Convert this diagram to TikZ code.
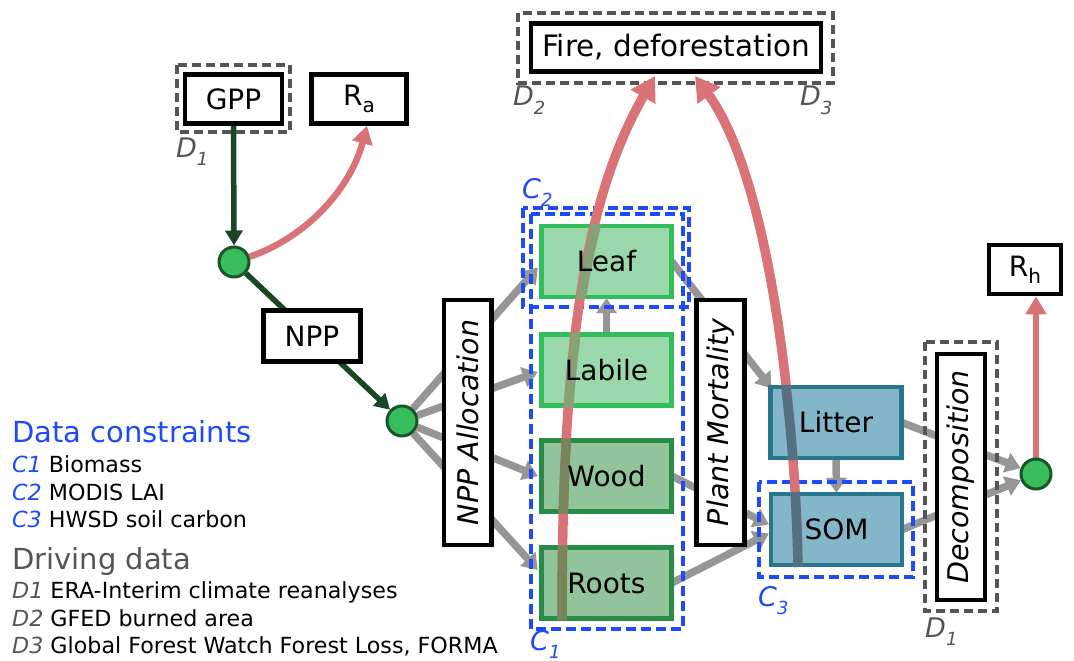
\documentclass[tikz,border=0pt]{standalone}
\usepackage{fontspec}
\setmainfont{DejaVu Sans}
\usetikzlibrary{arrows.meta}
\pgfdeclarelayer{arr}\pgfdeclarelayer{bg}\pgfdeclarelayer{mid}
\pgfsetlayers{arr,bg,mid,main}
\definecolor{cblue}{RGB}{30,75,245}
\definecolor{dgray}{RGB}{85,85,85}
\definecolor{agray}{RGB}{150,150,150}
\definecolor{dgreen}{RGB}{25,70,35}
\definecolor{pinkr}{RGB}{217,115,120}
\definecolor{jfill}{RGB}{55,190,90}
\definecolor{jdraw}{RGB}{25,85,40}
\definecolor{lfill}{RGB}{152,216,170}
\definecolor{ldraw}{RGB}{50,190,90}
\definecolor{wfill}{RGB}{145,196,155}
\definecolor{wdraw}{RGB}{40,140,70}
\definecolor{sfill}{RGB}{132,182,202}
\definecolor{sdraw}{RGB}{40,118,140}
\definecolor{flight}{RGB}{135,160,118}
\definecolor{fdark}{RGB}{120,132,92}
\definecolor{fblue}{RGB}{85,112,130}
\newcommand{\subl}[2]{{\itshape #1\raisebox{-0.3em}{\fontsize{18}{18}\selectfont #2}}}
\tikzset{
  box/.style={draw=black, line width=4.5pt, fill=white, inner sep=0pt, font=\fontsize{28}{32}\selectfont},
  vbox/.style={box, rotate=90, font=\fontsize{28.5}{32}\selectfont\itshape},
  comp/.style={inner sep=0pt, font=\fontsize{28}{32}\selectfont, minimum width=130pt, minimum height=71pt},
  leafc/.style={fill=lfill, draw=ldraw, line width=4.5pt},
  woodc/.style={fill=wfill, draw=wdraw, line width=4.5pt},
  soilc/.style={fill=sfill, draw=sdraw, line width=4.5pt},
  junc/.style={circle, fill=jfill, draw=jdraw, line width=3pt, minimum size=30pt, inner sep=0pt},
  garrow/.style={draw=agray, line width=7.5pt, -{Triangle[width=20pt,length=15pt]}},
  dgarrow/.style={draw=dgreen, line width=5.5pt, -{Triangle[width=17pt,length=15pt]}},
  parrow/.style={draw=pinkr, line width=6.5pt, -{Triangle[width=20pt,length=18pt]}},
  firearrow/.style={draw=pinkr, line width=9.5pt, -{Triangle[width=27pt,length=24pt]}},
  bdash/.style={draw=cblue, line width=3.2pt, dash pattern=on 10pt off 5pt},
  gdash/.style={draw=dgray, line width=3.2pt, dash pattern=on 9pt off 5pt},
  clab/.style={anchor=base west, text=cblue, font=\fontsize{27}{30}\selectfont, inner sep=0pt},
  dlab/.style={anchor=base west, text=dgray, font=\fontsize{27}{30}\selectfont, inner sep=0pt},
  leg/.style={anchor=base west, font=\fontsize{22.2}{24}\selectfont, inner sep=0pt},
  legh/.style={anchor=base west, font=\fontsize{29}{32}\selectfont, inner sep=0pt}
}
\begin{document}
\begin{tikzpicture}[x=1pt,y=-1pt]
\useasboundingbox (0,0) rectangle (1074,661);
% plain boxes
\node[box, minimum width=97pt, minimum height=49pt] (GPP) at (233.5,99) {GPP};
\node[box, minimum width=95pt, minimum height=49pt] (Ra) at (359,99) {R\raisebox{-0.25em}{\fontsize{20}{20}\selectfont a}};
\node[box, minimum width=290pt, minimum height=48pt, font=\fontsize{29.5}{32}\selectfont] (Fire) at (676,47.5) {Fire, deforestation};
\node[box, minimum width=97pt, minimum height=51pt] (NPP) at (312,336) {NPP};
\node[vbox, minimum width=245pt, minimum height=47.5pt] (Alloc) at (467.5,422.5) {NPP Allocation};
\node[vbox, minimum width=245pt, minimum height=48pt] (Mort) at (720.5,422.5) {Plant Mortality};
\node[vbox, minimum width=246pt, minimum height=48pt] (Decomp) at (961,477) {Decomposition};
\node[box, minimum width=72pt, minimum height=49pt] (Rh) at (1025,269.5) {R\raisebox{-0.25em}{\fontsize{20}{20}\selectfont h}};
% compartments
\node[comp] (Leaf) at (606.5,261.5) {Leaf};
\node[comp] (Labile) at (606.5,370) {Labile};
\node[comp] (Wood) at (606.5,476) {Wood};
\node[comp] (Roots) at (606.5,583) {Roots};
\node[comp, minimum width=131pt] (Litter) at (836,422.5) {Litter};
\node[comp, minimum width=131pt] (SOM) at (836.5,529.5) {SOM};
% junctions
\node[junc] (J1) at (234,262) {};
\node[junc] (J2) at (402,421) {};
\node[junc] (J3) at (1036,474) {};
% labels
\node[dlab] (d1a) at (176,157) {\subl{D}{1}};
\node[dlab] (d2) at (513,106) {\subl{D}{2}};
\node[dlab] (d3) at (800,106) {\subl{D}{3}};
\node[clab] (c2) at (522,198) {\subl{C}{2}};
\node[clab] (c1) at (530,650) {\subl{C}{1}};
\node[clab] (c3) at (758,606) {\subl{C}{3}};
\node[dlab] (d1b) at (925,637) {\subl{D}{1}};
% legend
\node[legh, text=cblue] (lgc) at (12,442) {Data constraints};
\node[leg] (lgc1) at (12,472) {\textcolor{cblue}{\itshape C1} Biomass};
\node[leg] (lgc2) at (12,500) {\textcolor{cblue}{\itshape C2} MODIS LAI};
\node[leg] (lgc3) at (12,527) {\textcolor{cblue}{\itshape C3} HWSD soil carbon};
\node[legh, text=dgray] (lgd) at (12,569) {Driving data};
\node[leg] (lgd1) at (12,598) {\textcolor{dgray}{\itshape D1} ERA-Interim climate reanalyses};
\node[leg] (lgd2) at (12,626) {\textcolor{dgray}{\itshape D2} GFED burned area};
\node[leg] (lgd3) at (12,653) {\textcolor{dgray}{\itshape D3} Global Forest Watch Forest Loss, FORMA};
% connectors
\begin{pgfonlayer}{arr}
\draw[dgarrow] (GPP.south) -- (J1.north);
\draw[dgarrow] (J1) -- (J2);
\draw[parrow] (J1) .. controls (305,238) and (350,190) .. ([xshift=8pt]Ra.south);
\draw[garrow] (J2) -- ([xshift=-3.5pt,yshift=-6pt]Leaf.west);
\draw[garrow] (J2) -- ([xshift=-3.5pt,yshift=-2pt]Labile.west);
\draw[garrow] (J2) -- ([xshift=-3.5pt]Wood.west);
\draw[garrow] (J2) -- ([xshift=-3.5pt,yshift=13pt]Roots.west);
\draw[garrow] (Labile.north) -- ([yshift=-1pt]Leaf.south);
\draw[garrow, shorten >=-2pt] (Leaf.east) -- (Litter.north west);
\draw[garrow] (Wood.east) -- ([xshift=-2pt,yshift=5pt]SOM.west);
\draw[garrow] (Roots.east) -- ([xshift=-2pt,yshift=-4pt]SOM.west);
\draw[garrow] (Litter.south) -- ([yshift=1pt]SOM.north);
\draw[garrow] (Litter.east) -- (J3);
\draw[garrow] (SOM.east) -- (J3);
\draw[parrow] (J3) -- ([xshift=11pt]Rh.south);
\end{pgfonlayer}
\begin{pgfonlayer}{bg}
\filldraw[leafc] (Leaf.south west) rectangle (Leaf.north east);
\filldraw[leafc] (Labile.south west) rectangle (Labile.north east);
\filldraw[woodc] (Wood.south west) rectangle (Wood.north east);
\filldraw[woodc] (Roots.south west) rectangle (Roots.north east);
\filldraw[soilc] (Litter.south west) rectangle (Litter.north east);
\filldraw[soilc] (SOM.south west) rectangle (SOM.north east);
\draw[gdash] (177,65) rectangle (290,132);
\draw[gdash] (518,13) rectangle (833,83);
\draw[gdash] (925,342) rectangle (997,611);
\draw[bdash] (523,208) rectangle (689,307);
\draw[bdash] (531,214) rectangle (683,629);
\draw[bdash] (759,482) rectangle (913,577);
\end{pgfonlayer}
\coordinate (f1) at (562,620);
\coordinate (t1) at (655,76);
\coordinate (f2) at (798,567);
\coordinate (t2) at (695,76);
\begin{pgfonlayer}{mid}
\draw[firearrow] (f1) .. controls (562,380) and (578,210) .. (t1);
\draw[firearrow] (f2) .. controls (795,400) and (767,175) .. (t2);
\begin{scope}
\clip ([shift={(-2pt,-2pt)}]Leaf.south west) rectangle ([shift={(2pt,2pt)}]Leaf.north east)
      ([shift={(-2pt,-2pt)}]Labile.south west) rectangle ([shift={(2pt,2pt)}]Labile.north east);
\draw[draw=flight, line width=9.5pt] (f1) .. controls (562,380) and (578,210) .. (t1);
\end{scope}
\begin{scope}
\clip ([shift={(-2pt,-2pt)}]Wood.south west) rectangle ([shift={(2pt,2pt)}]Wood.north east)
      ([shift={(-2pt,-2pt)}]Roots.south west) rectangle ([shift={(2pt,2pt)}]Roots.north east);
\draw[draw=fdark, line width=9.5pt] (f1) .. controls (562,380) and (578,210) .. (t1);
\end{scope}
\begin{scope}
\clip ([shift={(-2pt,-2pt)}]Litter.south west) rectangle ([shift={(2pt,2pt)}]Litter.north east)
      ([shift={(-2pt,-2pt)}]SOM.south west) rectangle ([shift={(2pt,2pt)}]SOM.north east);
\draw[draw=fblue, line width=9.5pt] (f2) .. controls (795,400) and (767,175) .. (t2);
\end{scope}
\end{pgfonlayer}
\end{tikzpicture}
\end{document}
